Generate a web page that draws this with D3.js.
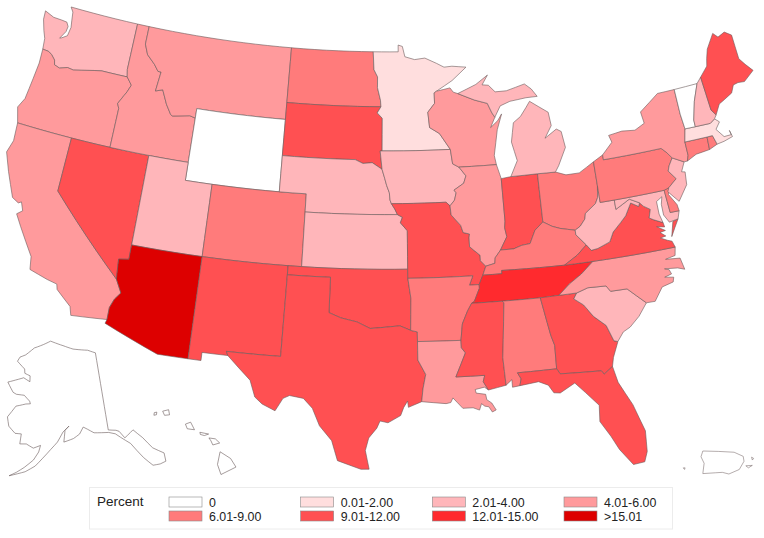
<!DOCTYPE html>
<html>
<head>
<meta charset="utf-8">
<script src="https://cdn.jsdelivr.net/npm/d3@7"></script>
<style>
  html, body { margin: 0; background: #fff; }
  text { font-family: "Liberation Sans", Arial, sans-serif; font-size: 12.4px; fill: #222; }
</style>
</head>
<body>
<svg id="map" width="764" height="538"></svg>
<script>
// legend
const binLabels = ["0", "6.01-9.00", "0.01-2.00", "9.01-12.00", "2.01-4.00", "12.01-15.00", "4.01-6.00", ">15.01"];
const binFills = ["#ffffff", "#ff7b7b", "#ffdede", "#ff5052", "#ffb6ba", "#ff2a2e", "#ff9a9c", "#dd0000"];

// which bin each state falls in (index into binLabels)
const stateBins = {
  WY: 0, VT: 0, AK: 0, HI: 0, PR: 0,
  MN: 2, MA: 2,
  WA: 4, UT: 4, NE: 4, KS: 4, IA: 4, MI: 4, NH: 4, NJ: 4, WV: 4, SC: 4, MD: 4,
  OR: 6, CA: 6, ID: 6, MT: 6, WI: 6, IL: 6, NY: 6, NC: 6, LA: 6,
  ND: 1, CO: 1, OH: 1, PA: 1, KY: 1, AR: 1, AL: 1, CT: 1, DE: 1, RI: 1,
  NV: 3, SD: 3, NM: 3, OK: 3, TX: 3, MO: 3, IN: 3, VA: 3, MS: 3, GA: 3, FL: 3, ME: 3,
  TN: 5,
  AZ: 7
};

// shared borders, lon/lat
const snake = [[-116.92,46],[-116.46,45.6],[-116.67,45.2],[-116.85,44.95],[-117.2,44.45],[-117.03,44.2],[-117.03,42]];
const idMt = [[-116.05,49],[-116.05,48],[-115.7,47.45],[-115,47],[-114.6,46.65],[-114.35,46.65],[-114.5,45.56],[-113.95,45.7],[-113.45,44.95],[-113,44.45],[-112.85,44.37],[-111.5,44.55],[-111.05,44.47]];
const redRiverN = [[-97.23,49],[-97.15,48],[-96.85,47.6],[-96.85,47],[-96.6,46.3],[-96.56,45.94]];
const missouri = [[-98.5,43],[-97.9,42.8],[-97.2,42.85],[-96.45,42.49],[-96.25,42],[-96.1,41.6],[-95.9,41.2],[-95.85,40.8],[-95.75,40.6],[-95.5,40.3],[-95.31,40],[-94.95,39.85],[-95.1,39.55],[-94.61,39.11]];
const missUpper = [[-91.22,43.5],[-91.1,42.7],[-90.64,42.5],[-90.15,42],[-90.35,41.6],[-91.1,41.25],[-90.95,41.1],[-91.1,40.7],[-91.45,40.4],[-91.4,39.9],[-90.75,39.3],[-90.6,38.9],[-90.15,38.8],[-90.2,38.6],[-90.2,38.1],[-89.5,37.6],[-89.5,37.3],[-89.15,36.98]];
const missLower = [[-89.15,36.98],[-89.4,36.5],[-89.7,36],[-89.7,35.8],[-90.1,35.1],[-90.3,35],[-90.6,34.6],[-91,33.9],[-91.15,33],[-91.15,32.6],[-90.9,32.3],[-91.6,31]];
const ohioRiver = [[-80.52,40.64],[-80.65,40],[-80.87,39.7],[-81.7,39.25],[-81.8,38.95],[-82.2,38.6],[-82.6,38.42],[-83.65,38.63],[-84.2,38.8],[-84.82,39.1],[-85.45,38.7],[-85.9,38],[-86.5,37.95],[-87.1,37.8],[-88.03,37.8],[-88.45,37.4],[-88.5,37.1],[-89.15,36.98]];
const wabash = [[-88.03,37.8],[-87.5,38.5],[-87.6,39],[-87.53,39.35]];
const wvVa = [[-81.97,37.54],[-81.68,37.2],[-81.2,37.25],[-80.3,37.5],[-79.95,38],[-79.3,38.45],[-78.87,38.76],[-78.35,39.4],[-77.83,39.13],[-77.72,39.32]];
const potomac = [[-77.72,39.32],[-77.5,39.1],[-77.05,38.85],[-77.25,38.4],[-76.95,38.25],[-76.35,38]];
const redRiverS = [[-100,34.56],[-99.2,34.3],[-98.1,34.1],[-97.2,33.75],[-96.5,33.8],[-95.2,33.9],[-94.48,33.64]];
const sabine = [[-94.04,33.02],[-94.04,32],[-93.55,31.2],[-93.75,30.4],[-93.85,29.7]];
const savannah = [[-83.1,35],[-83.35,34.7],[-82.75,34.3],[-82.2,33.6],[-81.45,33],[-81.1,32.1],[-80.85,32.03]];
const ncSc = [[-83.1,35],[-82.3,35.2],[-81.05,35.15],[-80.8,34.82],[-79.67,34.8],[-78.55,33.86]];
const stCroix = [[-92.1,46.75],[-92.29,46.66],[-92.29,46.08],[-92.85,45.6],[-92.75,44.75],[-92,44.4],[-91.22,43.5]];
const wiMi = [[-90.4,46.56],[-89.1,46.14],[-88.1,45.9],[-87.8,45.35],[-87.6,45.1]];
const colorado = [[-114.63,35],[-114.15,34.3],[-114.5,33.9],[-114.72,33.4],[-114.72,32.72]];
const ncTn = [[-84.32,35],[-83.5,35.55],[-82.6,36],[-81.68,36.59]];
const delaware = [[-75.42,39.8],[-74.75,40.2],[-75.2,40.7],[-75.05,40.97],[-74.7,41.36]];
const rev = a => a.slice().reverse();

const outlines = {
  WA: [[[-122.76,49],[-122.5,48.75],[-122.4,48.3],[-122.3,47.9],[-122.4,47.4],[-122.8,47.2],[-122.95,47.15],[-122.6,47.6],[-122.55,47.9],[-122.75,48.12],[-123.2,48.15],[-123.9,48.17],[-124.7,48.38],[-124.65,47.9],[-124.35,47.3],[-124.1,46.9],[-124,46.3],[-123.5,46.27],[-123.2,46.15],[-122.85,45.9],[-122.75,45.65],[-122.3,45.55],[-121.7,45.7],[-121.2,45.65],[-120.6,45.75],[-119.6,45.92],[-119,46],[-116.92,46],[-117.04,46.4],[-117.04,49]]],
  OR: [[[-124,46.3],[-123.5,46.27],[-123.2,46.15],[-122.85,45.9],[-122.75,45.65],[-122.3,45.55],[-121.7,45.7],[-121.2,45.65],[-120.6,45.75],[-119.6,45.92],[-119,46],...snake,[-124.2,42],[-124.55,42.84],[-124.2,43.4],[-124.05,44.6],[-123.95,45.5]]],
  CA: [[[-124.2,42],[-120,42],[-120,39],...colorado,[-117.12,32.53],[-117.3,33],[-118.4,33.75],[-118.5,34.03],[-119.2,34.15],[-120.5,34.45],[-120.65,35.15],[-121.9,36.6],[-122.4,37.2],[-122.05,37.45],[-122.3,37.9],[-122.5,37.8],[-123,38],[-123.8,39.3],[-124.35,40.3],[-124.1,41]]],
  NV: [[[-120,42],[-114.05,42],[-114.05,36.2],[-114.75,36.1],[-114.63,35],[-120,39]]],
  ID: [[[-117.04,49],...idMt,[-111.05,42],...rev(snake),[-117.04,46.4]]],
  MT: [[...idMt,[-111.05,45],[-104.05,45],[-104.05,49]]],
  WY: [[[-111.05,45],[-104.05,45],[-104.05,41],[-111.05,41]]],
  UT: [[[-114.05,42],[-111.05,42],[-111.05,41],[-109.05,41],[-109.05,37],[-114.05,37]]],
  AZ: [[[-114.05,37],[-109.05,37],[-109.05,31.33],[-111.07,31.33],[-114.8,32.5],...rev(colorado),[-114.75,36.1],[-114.05,36.2]]],
  CO: [[[-109.05,41],[-102.05,41],[-102.05,37],[-109.05,37]]],
  NM: [[[-109.05,37],[-103,37],[-103.05,32],[-106.62,32],[-106.5,31.78],[-108.2,31.78],[-108.2,31.33],[-109.05,31.33]]],
  ND: [[[-104.05,49],...redRiverN,[-104.05,45.94]]],
  SD: [[[-104.05,45.94],[-96.56,45.94],[-96.85,45.6],[-96.45,45.3],[-96.45,43.5],[-96.6,43.5],...rev(missouri.slice(0,4)),[-104.05,43]]],
  NE: [[[-104.05,43],...missouri.slice(0,11),[-102.05,40],[-102.05,41],[-104.05,41]]],
  KS: [[[-102.05,40],...missouri.slice(10),[-94.62,37],[-102.05,37]]],
  OK: [[[-103,37],[-94.62,37],[-94.62,36.5],[-94.43,35.4],...rev(redRiverS),[-100,36.5],[-103,36.5]]],
  TX: [[[-103,36.5],[-100,36.5],...redRiverS,[-94.04,33.55],...sabine,[-94.7,29.4],[-94.75,29.75],[-95,29.4],[-95.2,28.95],[-96,28.55],[-96.5,28.65],[-96.7,28.25],[-97.2,27.7],[-97.4,27],[-97.15,25.96],[-97.65,25.95],[-99.1,26.4],[-99.5,27.5],[-100.3,28.3],[-100.8,29.25],[-101.4,29.77],[-102.3,29.88],[-102.7,29.7],[-103.15,28.98],[-104,29.3],[-104.5,29.65],[-104.9,30.55],[-106.5,31.78],[-106.62,32],[-103.05,32]]],
  MN: [[...redRiverN,[-96.85,45.6],[-96.45,45.3],[-96.45,43.5],...rev(stCroix),[-90.8,47.3],[-89.6,48],[-90.75,48.1],[-91.4,48.07],[-92,48.3],[-92.95,48.62],[-93.8,48.55],[-94.6,48.72],[-94.8,49.3],[-95.15,49.38],[-95.15,49]]],
  IA: [[[-96.6,43.5],...missUpper.slice(0,9),[-91.73,40.61],...rev(missouri.slice(3,9))]],
  MO: [[[-95.75,40.6],[-91.73,40.61],...missUpper.slice(8),...missLower.slice(1,3),[-90.37,36],[-90.1,36.5],[-94.62,36.5],[-94.62,37],...rev(missouri.slice(8))]],
  AR: [[[-94.62,36.5],[-90.1,36.5],[-90.37,36],...missLower.slice(2,9),[-94.04,33.02],[-94.04,33.55],[-94.48,33.64],[-94.43,35.4]]],
  LA: [[...sabine,[-92.3,29.55],[-92,29.6],[-91.85,29.85],[-91.6,29.6],[-91.25,29.25],[-90.6,29.25],[-90.2,29.1],[-90.05,29.45],[-89.85,29.3],[-89.6,29.25],[-89.4,28.95],[-89.15,29.05],[-89.4,29.45],[-89.7,29.65],[-89.75,29.95],[-90.35,30.05],[-90.4,30.25],[-89.8,30.35],[-89.55,30.18],[-89.85,30.65],[-89.73,31],...rev(missLower.slice(8))]],
  WI: [[...stCroix,...missUpper.slice(1,3),[-87.8,42.49],[-87.9,43],[-87.5,44.4],[-87.05,45.25],[-87.4,44.9],[-88,44.55],...rev(wiMi),[-90.75,46.65],[-91,46.9]]],
  IL: [[...missUpper.slice(2),...rev(ohioRiver.slice(14)).slice(1),...wabash.slice(1),[-87.53,41.7],[-87.8,42.49]]],
  IN: [[[-87.53,41.7],[-86.8,41.76],[-84.8,41.76],...ohioRiver.slice(9,15),...wabash.slice(1)]],
  OH: [[[-84.8,41.76],[-83.45,41.73],[-82.7,41.5],[-81.7,41.5],[-80.52,41.98],...ohioRiver.slice(0,10)]],
  KY: [[...ohioRiver.slice(6),missLower[1],[-88.07,36.5],[-88.07,36.68],[-83.68,36.6],[-82.7,37.05],[-81.97,37.54],[-82.6,38.17]]],
  TN: [[...missLower.slice(1,6),[-88.2,35],[-85.6,34.98],...ncTn,[-83.68,36.6],[-88.07,36.68],[-88.07,36.5]]],
  MS: [[...missLower.slice(5),[-89.73,31],[-89.85,30.65],[-89.55,30.18],[-88.4,30.37],[-88.47,31.9],[-88.1,34.9],[-88.2,35]]],
  AL: [[[-88.2,35],[-85.6,34.98],[-85.18,32.87],[-85,32.3],[-85.05,31],[-87.6,31],[-87.4,30.65],[-87.52,30.28],[-88,30.23],[-88,30.65],[-88.4,30.37],[-88.47,31.9],[-88.1,34.9]]],
  GA: [[[-85.6,34.98],[-84.32,35],...savannah,[-81.3,31.2],[-81.45,30.72],[-82.05,30.36],[-82.2,30.57],[-84.86,30.7],[-85.05,31],[-85,32.3],[-85.18,32.87]]],
  FL: [[[-87.6,31],[-85.05,31],[-84.86,30.7],[-82.2,30.57],[-82.05,30.36],[-81.45,30.72],[-81.25,29.8],[-80.55,28.45],[-80.05,26.9],[-80.15,25.75],[-80.4,25.2],[-81.1,25.15],[-81.8,26.1],[-82.2,26.9],[-82.75,27.8],[-82.65,28.7],[-83.4,29.5],[-84,30.1],[-85,29.65],[-85.4,29.7],[-85.7,30.15],[-86.3,30.4],[-87.52,30.28],[-87.4,30.65]]],
  SC: [[...ncSc,[-79.2,33.2],[-79.9,32.7],[-80.4,32.5],...rev(savannah).slice(0,-1)]],
  NC: [[...ncTn.slice(0,1),...ncSc,[-77.95,33.85],[-77.3,34.55],[-76.5,34.7],[-76.4,34.95],[-77,35.05],[-76.5,35.15],[-76.6,35.4],[-76.9,35.5],[-76,35.4],[-75.55,35.25],[-75.7,35.9],[-76.7,36],[-76,36.1],[-75.87,36.55],...rev(ncTn)]],
  VA: [[[-83.68,36.6],[-81.68,36.59],[-75.87,36.55],[-76,36.9],[-76.3,37],[-76.75,37.2],[-76.35,37.25],[-76.7,37.5],[-76.3,37.55],[-76.85,37.85],[-76.3,37.75],...rev(potomac),...rev(wvVa),[-82.7,37.05]],
       [[-75.95,37.15],[-75.6,37.6],[-75.25,38.03],[-75.65,37.95]]],
  WV: [[[-82.6,38.42],[-82.6,38.17],...wvVa,[-78.4,39.62],[-79.48,39.2],[-79.48,39.72],[-80.52,39.72],...ohioRiver.slice(0,6)]],
  MD: [[[-79.48,39.72],[-75.79,39.72],[-75.7,38.46],[-75.05,38.45],[-75.25,38.03],[-75.9,37.95],[-76.2,38.4],[-76.2,39],[-76.05,39.4],[-76.5,39.2],[-76.5,38.5],[-76.35,38],...rev(potomac).slice(1),[-78.4,39.62],[-79.48,39.2]]],
  DE: [[[-75.79,39.72],[-75.42,39.8],[-75.55,39.45],[-75.1,38.8],[-75.05,38.45],[-75.7,38.46]]],
  PA: [[[-80.52,41.98],[-79.76,42.27],[-79.76,42],[-75.35,42],[-75.05,41.75],...rev(delaware),[-75.79,39.72],[-80.52,39.72]]],
  NJ: [[...rev(delaware),[-75.55,39.6],[-75.2,39.25],[-74.9,38.95],[-74.1,39.75],[-74,40.45],[-74.25,40.5],[-73.9,41]].reverse()],
  NY: [[[-79.76,42.27],[-79.76,42],[-75.35,42],[-75.05,41.75],[-74.7,41.36],[-73.9,41],[-73.65,41],[-73.5,41.3],[-73.5,42.05],[-73.26,42.75],[-73.35,43.6],[-73.35,45],[-74.7,45],[-76.3,44.2],[-76.2,43.55],[-77,43.28],[-78,43.37],[-79.05,43.27],[-78.9,42.87]]],
  CT: [[[-73.5,42.05],[-71.8,42.02],[-71.85,41.32],[-72.9,41.25],[-73.65,41],[-73.5,41.3]]],
  RI: [[[-71.8,42.02],[-71.38,42.02],[-71.2,41.5],[-71.85,41.32]]],
  MA: [[[-73.5,42.05],[-73.26,42.75],[-71.3,42.7],[-70.9,42.88],[-70.6,42.65],[-71,42.3],[-70.55,41.8],[-70,41.8],[-70.05,42.05],[-69.95,41.68],[-70.65,41.55],[-71.2,41.5],[-71.38,42.02],[-71.8,42.02]]],
  VT: [[[-73.35,45],[-71.5,45.01],[-72.05,44.1],[-72.45,43.1],[-72.46,42.73],[-73.26,42.75],[-73.35,43.6]]],
  NH: [[[-71.5,45.01],[-71.1,45.3],[-70.98,43.4],[-70.7,43.07],[-70.9,42.88],[-71.3,42.7],[-72.46,42.73],[-72.45,43.1],[-72.05,44.1]]],
  ME: [[[-71.1,45.3],[-70.4,45.8],[-70.25,46.2],[-70,46.7],[-69.23,47.46],[-68.9,47.18],[-68.3,47.35],[-67.8,47.07],[-67.8,45.7],[-67.45,45.3],[-67,44.85],[-67.9,44.4],[-68.4,44.45],[-68.8,44.4],[-69.1,44],[-69.8,43.75],[-70.25,43.6],[-70.7,43.07],[-70.98,43.4]]],
  MI: [[[-86.8,41.76],[-84.8,41.76],[-83.45,41.73],[-83.15,42.05],[-82.45,43],[-82.6,43.9],[-82.95,44.07],[-83.9,43.65],[-83.3,44.3],[-83.4,45.05],[-84.75,45.78],[-85.1,45.45],[-85.6,45],[-86.2,44.7],[-86.5,43.65],[-86.2,42.6]],
       [...wiMi,[-87.1,45.7],[-86.3,45.9],[-85,46],[-84.1,46],[-84.5,46.45],[-85,46.77],[-86.5,46.5],[-87.4,46.5],[-87.9,46.9],[-88.4,46.95],[-87.9,47.47],[-88.9,47],[-90.4,46.56]].reverse()]
};

const alaska = [[[-141,69.65],[-143.5,70.1],[-148.5,70.4],[-152,70.85],[-156.5,71.35],[-159,70.85],[-162,70.3],[-164.5,69.3],[-166.2,68.9],[-166.7,68.35],[-164,67.6],[-163.7,67.1],[-162,66.9],[-161.8,66.2],[-163.8,66.55],[-166,66.1],[-168.1,65.65],[-166,64.6],[-165,64.45],[-162.8,64.5],[-161.1,63.9],[-160.8,63.6],[-162,63.5],[-164.5,63.05],[-166.1,61.6],[-165.3,60.55],[-163.5,59.85],[-162,59.9],[-162,58.7],[-160.5,58.8],[-158.8,58.4],[-157.2,58.8],[-157.5,58],[-158.5,57],[-160.3,56],[-161.8,55.3],[-163.2,54.75],[-161.5,55.15],[-160,55.5],[-158,56.3],[-156.5,57.3],[-154.8,58.4],[-153.3,59.3],[-152,60.5],[-150.5,61.2],[-151.5,60.7],[-151.8,59.3],[-149.5,59.7],[-148,60.2],[-147,61],[-146,60.7],[-144.5,60.2],[-141,60],[-139.5,59.7],[-137.5,58.7],[-136.5,58.2],[-135.5,57.2],[-134.5,56.2],[-133,55],[-131.5,54.9],[-130.2,55],[-130,56],[-132,57],[-133.5,58.5],[-135.2,59.7],[-137.5,59],[-138.5,59.9],[-139.2,60.1],[-141,60.3]]];
const hawaii = [
  [[-155.9,20.25],[-155.2,19.95],[-154.8,19.5],[-155.65,18.95],[-155.95,19.5]],
  [[-156.7,20.95],[-156.3,20.95],[-156,20.75],[-156.4,20.58],[-156.55,20.8]],
  [[-157.3,21.2],[-156.75,21.17],[-157,21.05],[-157.25,21.08]],
  [[-158.25,21.55],[-157.95,21.7],[-157.65,21.3],[-158.1,21.3]],
  [[-159.75,22.1],[-159.4,22.23],[-159.3,21.95],[-159.6,21.88]],
  [[-160.25,21.95],[-160.1,22],[-160.1,21.85],[-160.25,21.8]]
];
const puertoRico = [
  [[-67.2,18.5],[-66.6,18.49],[-66,18.47],[-65.65,18.37],[-65.62,18.25],[-65.8,18.05],[-66.2,17.94],[-66.45,17.98],[-66.7,17.97],[-67.2,17.95],[-67.15,18.2],[-67.27,18.36]],
  [[-65.55,18.14],[-65.3,18.15],[-65.45,18.09]],
  [[-65.33,18.35],[-65.25,18.32],[-65.3,18.28]],
  [[-67.95,18.09],[-67.88,18.09],[-67.9,18.05]]
];

// projections
const projection = d3.geoAlbers().parallels([29.5, 45.5]).rotate([96, 0]).center([0, 38.5]).scale(1035).translate([388, 242]);
const akProjection = d3.geoConicEqualArea().parallels([55, 65]).rotate([152, 0]).center([0, 63]).scale(480).translate([63, 411]);
const hiProjection = d3.geoMercator().rotate([157, 0]).center([0, 20.5]).scale(930).angle(-8).translate([203, 445]);
const prX = d3.scaleLinear().domain([-67.27, -65.62]).range([701, 744]);
const prY = d3.scaleLinear().domain([18.5, 17.94]).range([451, 474]);
const prProjection = d3.geoTransform({ point(x, y) { this.stream.point(prX(x), prY(y)); } });

// long straight state lines have to follow parallels, so add a vertex every degree
function densify(ring) {
  const out = [];
  const closed = ring.concat([ring[0]]);
  d3.pairs(closed).forEach(([a, b]) => {
    const n = Math.ceil(Math.max(Math.abs(a[0] - b[0]), Math.abs(a[1] - b[1])));
    d3.range(n).forEach(i => out.push(d3.interpolate(a, b)(i / n)));
  });
  out.push(out[0]);
  return out;
}
function toFeature(id, rings) {
  const polys = rings.map(r => {
    const poly = { type: "Polygon", coordinates: [densify(r)] };
    if (d3.geoArea(poly) > 2 * Math.PI) poly.coordinates[0].reverse();
    return poly;
  });
  return { type: "Feature", id, geometry: { type: "MultiPolygon", coordinates: polys.map(p => p.coordinates) } };
}

const svg = d3.select("#map");
const strokeColor = "#6a5a5a";

function drawStates(features, proj) {
  const path = d3.geoPath(proj);
  svg.append("g")
    .selectAll("path")
    .data(features)
    .join("path")
    .attr("d", path)
    .attr("fill", d => binFills[stateBins[d.id]])
    .attr("stroke", strokeColor)
    .attr("stroke-width", 0.6)
    .attr("stroke-linejoin", "round");
}

drawStates(Object.keys(outlines).map(k => toFeature(k, outlines[k])), projection);
drawStates([toFeature("AK", alaska)], akProjection);
drawStates([toFeature("HI", hawaii)], hiProjection);

// the PR transform is planar so no winding fix is wanted here
svg.append("g").selectAll("path")
  .data(puertoRico)
  .join("path")
  .attr("d", r => d3.geoPath(prProjection)({ type: "Polygon", coordinates: [r.concat([r[0]])] }))
  .attr("fill", binFills[stateBins.PR])
  .attr("stroke", strokeColor)
  .attr("stroke-width", 0.5);

// legend box
const legend = svg.append("g");
legend.append("rect")
  .attr("x", 89.5).attr("y", 487.5).attr("width", 583).attr("height", 41.5)
  .attr("fill", "#fff").attr("stroke", "#ececec");
legend.append("text").attr("x", 97).attr("y", 506).style("font-size", "13.5px").text("Percent");

const colX = d3.scalePoint().domain(d3.range(4)).range([169, 564]);
const rowY = d3.scalePoint().domain(d3.range(2)).range([497, 511]);
const items = legend.selectAll("g.item")
  .data(binLabels.map((label, i) => ({ label, fill: binFills[i], col: Math.floor(i / 2), row: i % 2 })))
  .join("g")
  .attr("class", "item")
  .attr("transform", d => `translate(${colX(d.col)},${rowY(d.row)})`);
items.append("rect")
  .attr("width", 33).attr("height", 10)
  .attr("fill", d => d.fill)
  .attr("stroke", "#8a8a8a").attr("stroke-width", 0.6);
items.append("text").attr("x", 40).attr("y", 10).text(d => d.label);
</script>
</body>
</html>
